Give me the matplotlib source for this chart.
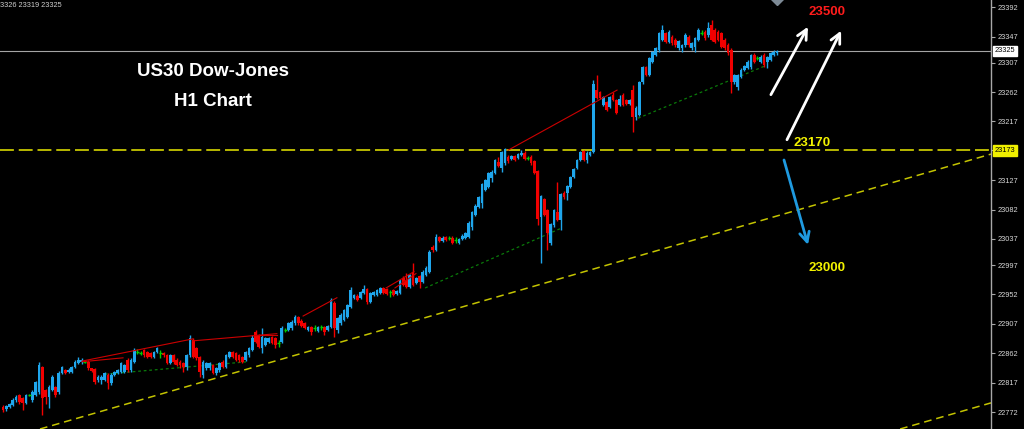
import numpy as np
import matplotlib.pyplot as plt
from matplotlib.transforms import blended_transform_factory

plt.rcParams['font.family'] = ['Liberation Sans', 'DejaVu Sans']
plt.rcParams['lines.scale_dashes'] = False

# US30 H1 candles
opens = [
    22780, 22776, 22780, 22783, 22790, 22798, 22793, 22786, 22798, 22790, 22798, 22803,
    22841, 22806, 22795, 22806, 22810, 22803, 22832, 22836, 22833, 22833, 22841, 22847,
    22848, 22849, 22849, 22839, 22838, 22821, 22821, 22821, 22829, 22816, 22829, 22832,
    22833, 22833, 22852, 22836, 22849, 22864, 22862, 22867, 22864, 22862, 22857, 22864,
    22862, 22862, 22859, 22847, 22859, 22852, 22849, 22847, 22841, 22859, 22882, 22870,
    22856, 22829, 22839, 22839, 22844, 22832, 22836, 22849, 22841, 22856, 22864, 22862,
    22859, 22856, 22852, 22859, 22867, 22894, 22890, 22870, 22875, 22879, 22887, 22885,
    22878, 22879, 22898, 22898, 22900, 22908, 22918, 22912, 22908, 22898, 22902, 22901,
    22896, 22902, 22902, 22898, 22902, 22939, 22898, 22908, 22913, 22918, 22933, 22947,
    22950, 22947, 22954, 22961, 22941, 22951, 22951, 22954, 22962, 22961, 22956, 22959,
    22953, 22954, 22977, 22974, 22964, 22987, 22970, 22980, 22971, 22982, 22987, 23025,
    23020, 23040, 23034, 23040, 23039, 23039, 23036, 23031, 23037, 23039, 23040, 23055,
    23074, 23086, 23092, 23112, 23117, 23130, 23138, 23155, 23146, 23153, 23163, 23160,
    23164, 23161, 23166, 23169, 23161, 23163, 23156, 23141, 23071, 23098, 23081, 23031,
    23058, 23078, 23066, 23108, 23108, 23117, 23132, 23146, 23158, 23172, 23158, 23166,
    23170, 23265, 23262, 23242, 23247, 23239, 23258, 23250, 23242, 23258, 23250, 23244,
    23265, 23224, 23227, 23277, 23300, 23288, 23308, 23319, 23326, 23342, 23352, 23339,
    23346, 23342, 23329, 23329, 23334, 23346, 23329, 23331, 23342, 23352, 23354, 23349,
    23365, 23357, 23354, 23352, 23342, 23334, 23326, 23277, 23270, 23285, 23296, 23299,
    23300, 23319, 23314, 23308, 23319, 23308, 23311, 23319, 23322]
highs = [
    22782, 22783, 22786, 22793, 22798, 22800, 22795, 22800, 22800, 22805, 22820, 22849,
    22843, 22808, 22813, 22828, 22812, 22835, 22843, 22838, 22840, 22843, 22851, 22857,
    22854, 22852, 22851, 22840, 22839, 22828, 22828, 22834, 22831, 22831, 22835, 22838,
    22849, 22846, 22854, 22854, 22870, 22868, 22866, 22869, 22866, 22864, 22866, 22872,
    22867, 22864, 22861, 22861, 22861, 22854, 22851, 22849, 22861, 22890, 22885, 22872,
    22858, 22851, 22849, 22849, 22846, 22841, 22849, 22851, 22861, 22866, 22866, 22864,
    22861, 22858, 22866, 22872, 22890, 22897, 22892, 22900, 22887, 22887, 22889, 22887,
    22882, 22903, 22901, 22910, 22913, 22920, 22919, 22914, 22910, 22904, 22904, 22905,
    22904, 22905, 22904, 22906, 22947, 22942, 22918, 22923, 22930, 22938, 22964, 22953,
    22952, 22958, 22967, 22962, 22956, 22958, 22961, 22964, 22964, 22962, 22959, 22961,
    22959, 22976, 22980, 22985, 22984, 23000, 22979, 22982, 22989, 22995, 23020, 23028,
    23044, 23042, 23041, 23042, 23041, 23041, 23040, 23039, 23044, 23048, 23064, 23080,
    23090, 23103, 23123, 23129, 23140, 23142, 23160, 23163, 23172, 23177, 23165, 23166,
    23166, 23169, 23173, 23171, 23164, 23165, 23158, 23143, 23105, 23100, 23083, 23062,
    23083, 23124, 23108, 23110, 23120, 23134, 23146, 23160, 23172, 23174, 23171, 23172,
    23280, 23288, 23264, 23256, 23249, 23256, 23262, 23252, 23258, 23260, 23252, 23252,
    23273, 23240, 23279, 23302, 23302, 23316, 23325, 23331, 23354, 23365, 23354, 23357,
    23349, 23345, 23342, 23336, 23352, 23349, 23339, 23346, 23360, 23357, 23357, 23369,
    23372, 23360, 23357, 23354, 23345, 23337, 23329, 23290, 23290, 23299, 23304, 23311,
    23321, 23322, 23317, 23319, 23322, 23318, 23324, 23326, 23326]
lows = [
    22772, 22774, 22778, 22781, 22788, 22784, 22775, 22784, 22796, 22788, 22796, 22800,
    22767, 22785, 22778, 22804, 22795, 22800, 22830, 22830, 22831, 22831, 22840, 22845,
    22846, 22847, 22837, 22833, 22815, 22818, 22815, 22819, 22808, 22814, 22827, 22830,
    22831, 22831, 22834, 22834, 22847, 22861, 22860, 22857, 22854, 22854, 22855, 22862,
    22855, 22857, 22845, 22845, 22846, 22842, 22839, 22833, 22836, 22857, 22854, 22852,
    22826, 22824, 22836, 22837, 22830, 22829, 22834, 22839, 22839, 22854, 22854, 22850,
    22849, 22847, 22850, 22857, 22865, 22877, 22870, 22862, 22873, 22877, 22876, 22870,
    22872, 22877, 22895, 22896, 22898, 22906, 22906, 22902, 22899, 22896, 22890, 22896,
    22894, 22898, 22890, 22896, 22900, 22887, 22893, 22906, 22911, 22916, 22931, 22945,
    22942, 22945, 22952, 22938, 22939, 22949, 22949, 22952, 22952, 22951, 22948, 22949,
    22951, 22952, 22965, 22962, 22962, 22965, 22968, 22962, 22969, 22980, 22985, 23017,
    23018, 23032, 23032, 23034, 23036, 23029, 23031, 23029, 23035, 23037, 23038, 23051,
    23072, 23084, 23085, 23110, 23115, 23124, 23136, 23147, 23140, 23151, 23154, 23158,
    23156, 23159, 23164, 23158, 23158, 23151, 23136, 23058, 23000, 23072, 23020, 23028,
    23056, 23064, 23051, 23099, 23097, 23115, 23130, 23144, 23156, 23156, 23153, 23164,
    23168, 23251, 23251, 23240, 23233, 23237, 23248, 23228, 23240, 23240, 23242, 23242,
    23201, 23219, 23225, 23275, 23286, 23286, 23306, 23317, 23323, 23340, 23337, 23337,
    23334, 23331, 23326, 23323, 23331, 23331, 23326, 23323, 23340, 23349, 23342, 23346,
    23340, 23337, 23340, 23329, 23326, 23319, 23261, 23274, 23265, 23283, 23294, 23297,
    23298, 23306, 23311, 23306, 23300, 23299, 23309, 23317, 23319]
closes = [
    22775, 22781, 22784, 22790, 22795, 22787, 22786, 22798, 22798, 22803, 22818, 22844,
    22793, 22795, 22810, 22826, 22798, 22832, 22841, 22832, 22836, 22841, 22849, 22852,
    22852, 22849, 22839, 22835, 22818, 22826, 22826, 22832, 22816, 22829, 22833, 22836,
    22847, 22844, 22836, 22852, 22867, 22864, 22862, 22859, 22856, 22856, 22864, 22870,
    22862, 22859, 22847, 22859, 22849, 22844, 22844, 22841, 22859, 22885, 22856, 22855,
    22833, 22849, 22847, 22847, 22832, 22839, 22847, 22841, 22859, 22864, 22856, 22852,
    22852, 22849, 22864, 22870, 22885, 22879, 22872, 22887, 22885, 22885, 22878, 22875,
    22878, 22901, 22898, 22908, 22910, 22918, 22908, 22904, 22901, 22902, 22895, 22901,
    22902, 22902, 22895, 22904, 22944, 22901, 22916, 22921, 22928, 22936, 22959, 22951,
    22944, 22956, 22961, 22941, 22954, 22956, 22959, 22962, 22954, 22953, 22956, 22951,
    22957, 22974, 22967, 22964, 22982, 22967, 22977, 22971, 22987, 22993, 23017, 23020,
    23040, 23034, 23039, 23036, 23039, 23031, 23036, 23037, 23042, 23046, 23062, 23078,
    23088, 23101, 23121, 23127, 23138, 23140, 23158, 23149, 23170, 23175, 23156, 23164,
    23158, 23167, 23169, 23160, 23161, 23153, 23138, 23068, 23103, 23074, 23046, 23060,
    23081, 23066, 23106, 23101, 23118, 23132, 23144, 23158, 23170, 23158, 23169, 23170,
    23274, 23253, 23253, 23254, 23235, 23254, 23250, 23230, 23251, 23242, 23244, 23250,
    23224, 23238, 23277, 23300, 23288, 23314, 23323, 23329, 23352, 23357, 23339, 23354,
    23337, 23334, 23340, 23334, 23349, 23334, 23337, 23345, 23357, 23352, 23345, 23360,
    23342, 23339, 23342, 23331, 23329, 23322, 23277, 23288, 23288, 23296, 23302, 23308,
    23319, 23308, 23314, 23316, 23303, 23316, 23322, 23323, 23325]

# price scale labels on the right
yticks = [22772, 22817, 22862, 22907, 22952, 22997, 23037, 23082, 23127,
          23173, 23217, 23262, 23307, 23347, 23392]
last_price = 23325
level_price = 23173

# drawn objects: (bar index, price) -> (bar index, price)
red_lines = [(24.1, 22850, 57.9, 22884), (24.1, 22849, 36.6, 22855),
             (57.9, 22881, 83.5, 22892), (76.8, 22890, 83.5, 22890),
             (91.5, 22919, 101.8, 22947), (116.8, 22962, 125.3, 22987),
             (119.5, 22962, 125.9, 22984), (154.0, 23173, 187.2, 23265)]
green_lines = [(31.1, 22830, 74.7, 22849), (128.7, 22962, 170.4, 23054),
               (193.6, 23222, 232.3, 23302)]
channel_lines = [(11.3, 22746, 301.2, 23167), (273.5, 22746, 301.2, 22786)]
up_arrows = [(234.1, 23258, 245.4, 23362), (239.0, 23189, 255.5, 23356)]
down_arrow = (238.1, 23158, 245.4, 23028)
targets = [('23500', 251.2, 23385, '#ff1c1c'), ('23170', 246.6, 23184, '#f2f200'),
           ('23000', 251.2, 22993, '#f2f200')]

BLUE = '#1fa6ec'
RED = '#f20000'
GREEN = '#00cc00'

fig = plt.figure(figsize=(10.24, 4.29), dpi=100, facecolor='black')
ax = fig.add_axes([0, 0, 991 / 1024, 1])
ax.set_facecolor('black')

o = np.array(opens); h = np.array(highs); l = np.array(lows); c = np.array(closes)
idx = np.arange(len(c))
cols = np.where(c > o, BLUE, np.where(c < o, RED, GREEN))
doji = c == o

ax.vlines(idx, l, h, colors=cols, lw=1.0, zorder=3)
ax.bar(idx[~doji], (c - o)[~doji], bottom=o[~doji], width=0.82,
       color=cols[~doji], linewidth=0, zorder=4)
ax.hlines(c[doji], idx[doji] - 0.45, idx[doji] + 0.45, colors=GREEN, lw=1.0, zorder=4)

# levels
ax.axhline(last_price, color='#a4a4a4', lw=0.8, zorder=2)
ax.axhline(level_price, color='#d6d600', lw=1.2, ls=(0, (10, 3.5)), zorder=2)
for x0, y0, x1, y1 in channel_lines:
    ax.plot([x0, x1], [y0, y1], color='#c4c400', lw=1.1, ls=(0, (5.5, 3.5)), zorder=2)
for x0, y0, x1, y1 in red_lines:
    ax.plot([x0, x1], [y0, y1], color='#cc0000', lw=0.8, zorder=5)
for x0, y0, x1, y1 in green_lines:
    ax.plot([x0, x1], [y0, y1], color='#0a7a0a', lw=0.9, ls=(0, (2, 2)), zorder=2)

# arrows
for x0, y0, x1, y1 in up_arrows:
    ax.annotate('', xy=(x1, y1), xytext=(x0, y0),
                arrowprops=dict(arrowstyle='->,head_length=0.7,head_width=0.35',
                                color='white', lw=2, shrinkA=0, shrinkB=0))
x0, y0, x1, y1 = down_arrow
ax.annotate('', xy=(x1, y1), xytext=(x0, y0),
            arrowprops=dict(arrowstyle='->,head_length=0.7,head_width=0.35',
                            color='#1f9ae0', lw=2, shrinkA=0, shrinkB=0))

for txt, x, y, col in targets:
    ax.text(x, y, txt, color=col, fontsize=9.5, fontweight='bold',
            ha='center', va='center')

ax.text(64, 23293, 'US30 Dow-Jones', color='white', fontsize=13.5,
        fontweight='bold', ha='center', va='center')
ax.text(64, 23248, 'H1 Chart', color='white', fontsize=13.5,
        fontweight='bold', ha='center', va='center')
ax.text(0.0, 0.995, '3326 23319 23325', transform=ax.transAxes, fontsize=5.3,
        color='#d0d0d0', ha='left', va='top')
ax.plot(236, 23405, marker='D', ms=6, color='#7d8a96', clip_on=False, zorder=6)

ax.set_xlim(-0.9, 301.2)
ax.set_ylim(22746, 23403)

ax.yaxis.tick_right()
ax.set_yticks(yticks)
# the 23173 level gets its own highlighted box below
ax.set_yticklabels(['' if v == level_price else str(v) for v in yticks])
ax.tick_params(axis='y', colors='#a8a8a8', labelcolor='#d8d8d8', labelsize=5.3,
               length=3, width=0.8, pad=2)
ax.tick_params(axis='x', bottom=False, labelbottom=False)
for s in ['top', 'bottom', 'left']:
    ax.spines[s].set_visible(False)
ax.spines['right'].set_color('#a8a8a8')
ax.spines['right'].set_linewidth(1)

tr = blended_transform_factory(ax.transAxes, ax.transData)
ax.text(1.004, last_price, str(last_price), transform=tr, fontsize=5.3, color='black',
        ha='left', va='center',
        bbox=dict(boxstyle='square,pad=0.25', fc='white', ec='white'))
ax.text(1.004, level_price, str(level_price), transform=tr, fontsize=5.3, color='black',
        ha='left', va='center',
        bbox=dict(boxstyle='square,pad=0.25', fc='#f0f000', ec='#f0f000'))

fig.savefig('out.png', dpi=100, facecolor='black')
